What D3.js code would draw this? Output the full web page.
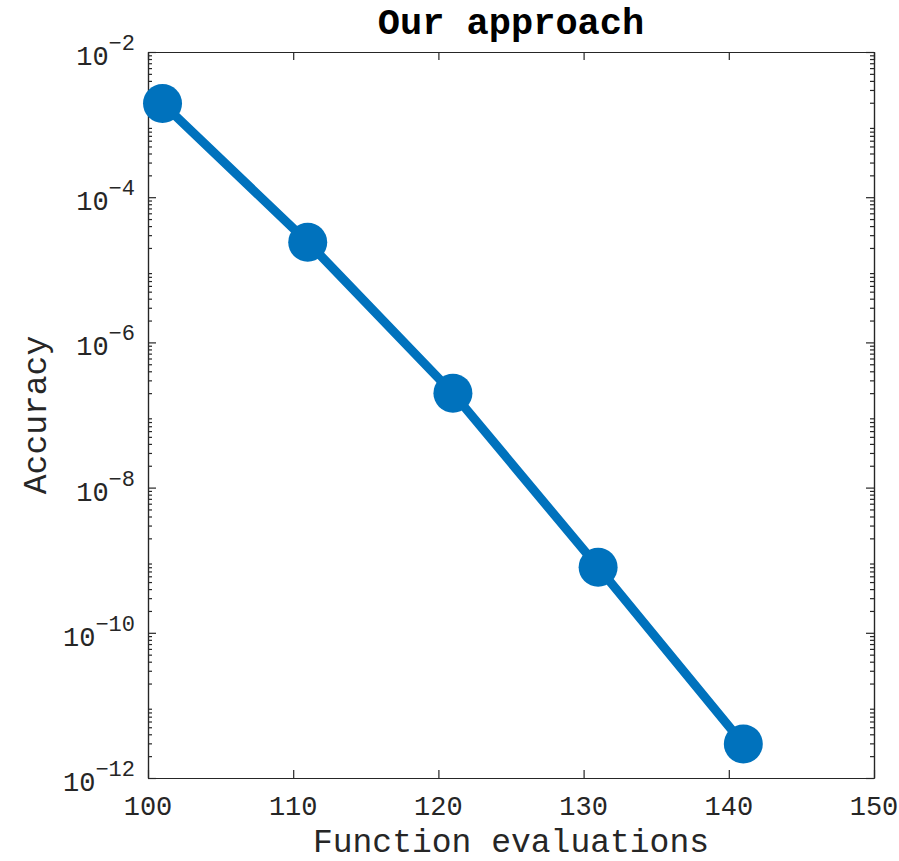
<!DOCTYPE html>
<html>
<head>
<meta charset="utf-8">
<script src="https://cdn.jsdelivr.net/npm/d3@7"></script>
<style>
  body { margin: 0; background: #fff; }
  svg text { font-family: "Liberation Mono", "Courier New", monospace; fill: #262626; }
</style>
</head>
<body>
<div id="chart"></div>
<script>

// data
var evaluations = [101, 111, 121, 131, 141];
var accuracy = [1.95e-3, 2.4e-5, 2.0e-7, 8.0e-10, 2.95e-12];
var xTicks = [100, 110, 120, 130, 140, 150];
var yTickExps = [-2, -4, -6, -8, -10, -12];

var margin = { top: 52, right: 25, bottom: 83, left: 148 };
var width = 899 - margin.left - margin.right;
var height = 861 - margin.top - margin.bottom;

var svg = d3.select("#chart").append("svg")
    .attr("width", 899)
    .attr("height", 861);

var g = svg.append("g")
    .attr("transform", "translate(" + margin.left + "," + margin.top + ")");

var x = d3.scaleLinear().domain([100, 150]).range([0, width]);
var y = d3.scaleLog().domain([1e-12, 1e-2]).range([height, 0]);

// minor ticks for the log axis: 2..9 x 10^k
var minorTicks = [];
for (var k = -12; k < -2; k++) {
  for (var m = 2; m <= 9; m++) minorTicks.push(m * Math.pow(10, k));
}
var majorY = yTickExps.map(function (e) { return Math.pow(10, e); });

var axisColor = "#262626";

// x axis (bottom and top, ticks pointing inward)
var xBottom = d3.axisBottom(x).tickValues(xTicks).tickSizeInner(-8).tickSizeOuter(0).tickFormat("");
var xTop = d3.axisTop(x).tickValues(xTicks).tickSizeInner(-8).tickSizeOuter(0).tickFormat("");
g.append("g").attr("class", "axis xAxis").attr("transform", "translate(0," + height + ")").call(xBottom);
g.append("g").attr("class", "axis").call(xTop);

// y axis major + minor, left and right
var yLeft = d3.axisLeft(y).tickValues(majorY).tickSizeInner(-8).tickSizeOuter(0).tickFormat("");
var yRight = d3.axisRight(y).tickValues(majorY).tickSizeInner(-8).tickSizeOuter(0).tickFormat("");
var yLeftMinor = d3.axisLeft(y).tickValues(minorTicks).tickSizeInner(-4).tickSizeOuter(0).tickFormat("");
var yRightMinor = d3.axisRight(y).tickValues(minorTicks).tickSizeInner(-4).tickSizeOuter(0).tickFormat("");
g.append("g").attr("class", "axis yAxis").call(yLeft);
g.append("g").attr("class", "axis").call(yLeftMinor);
g.append("g").attr("class", "axis").attr("transform", "translate(" + width + ",0)").call(yRight);
g.append("g").attr("class", "axis").attr("transform", "translate(" + width + ",0)").call(yRightMinor);

g.selectAll(".axis path, .axis line")
    .attr("stroke", axisColor)
    .attr("stroke-width", 1.2);

// x tick labels
g.selectAll(".xlabel")
    .data(xTicks)
    .enter().append("text")
    .attr("class", "xlabel")
    .attr("x", function (d) { return x(d); })
    .attr("y", height + 37)
    .attr("text-anchor", "middle")
    .style("font-size", "27px")
    .text(function (d) { return d; });

// y tick labels as 10^e
var yLab = g.selectAll(".ylabel")
    .data(yTickExps)
    .enter().append("text")
    .attr("class", "ylabel")
    .attr("x", -13)
    .attr("y", function (d) { return y(Math.pow(10, d)) + 13; })
    .attr("text-anchor", "end")
    .style("font-size", "27px");
yLab.append("tspan").text("10");
yLab.append("tspan")
    .attr("dy", -15)
    .style("font-size", "22px")
    .text(function (d) { return "\u2212" + Math.abs(d); });

// line and markers
var line = d3.line()
    .x(function (d, i) { return x(evaluations[i]); })
    .y(function (d) { return y(d); });

g.append("path")
    .datum(accuracy)
    .attr("fill", "none")
    .attr("stroke", "#0072BD")
    .attr("stroke-width", 9)
    .attr("d", line);

g.selectAll(".dot")
    .data(accuracy)
    .enter().append("circle")
    .attr("class", "dot")
    .attr("cx", function (d, i) { return x(evaluations[i]); })
    .attr("cy", function (d) { return y(d); })
    .attr("r", 19.5)
    .attr("fill", "#0072BD");

// title and axis labels
svg.append("text")
    .attr("x", margin.left + width / 2)
    .attr("y", 34)
    .attr("text-anchor", "middle")
    .style("font-size", "37px")
    .style("font-weight", "bold")
    .style("fill", "#000")
    .text("Our approach");

svg.append("text")
    .attr("x", margin.left + width / 2)
    .attr("y", 852)
    .attr("text-anchor", "middle")
    .style("font-size", "33px")
    .text("Function evaluations");

svg.append("text")
    .attr("transform", "translate(46," + (margin.top + height / 2) + ") rotate(-90)")
    .attr("text-anchor", "middle")
    .style("font-size", "33px")
    .text("Accuracy");
</script>
</body>
</html>
